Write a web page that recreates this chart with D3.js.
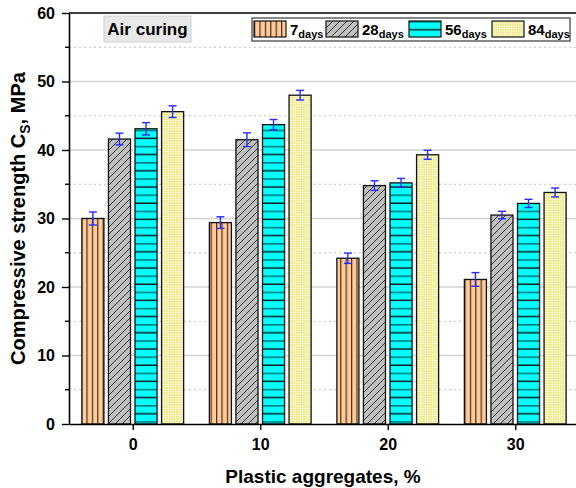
<!DOCTYPE html>
<html>
<head>
<meta charset="utf-8">
<script src="https://cdnjs.cloudflare.com/ajax/libs/d3/7.8.5/d3.min.js"></script>
<style>
body { margin: 0; background: #fff; }
text { font-family: Arial, "Liberation Sans", sans-serif; font-weight: bold; fill: #000; }
</style>
</head>
<body>
<div id="chart"></div>
<script>
// data
var contents = [0, 10, 20, 30];
var series = ["7", "28", "56", "84"];
var strength7 = [30.0, 29.4, 24.2, 21.1];
var strength28 = [41.6, 41.5, 34.8, 30.5];
var strength56 = [43.1, 43.7, 35.2, 32.2];
var strength84 = [45.6, 48.0, 39.3, 33.8];
var err7 = [0.95, 0.85, 0.75, 1.0];
var err28 = [0.85, 1.0, 0.7, 0.55];
var err56 = [0.9, 0.75, 0.65, 0.6];
var err84 = [0.85, 0.7, 0.65, 0.65];
var yTicks = [0, 10, 20, 30, 40, 50, 60];

var values = [strength7, strength28, strength56, strength84];
var errors = [err7, err28, err56, err84];

var data = [];
contents.forEach(function(c, i) {
    series.forEach(function(s, j) {
        data.push({ content: c, series: s, value: values[j][i], err: errors[j][i] });
    });
});

var W = 576, H = 488;
var margin = { top: 13, left: 69, bottom: 64 };
var height = H - margin.top - margin.bottom;

var svg = d3.select("#chart").append("svg")
    .attr("width", W)
    .attr("height", H);

// patterns
var defs = svg.append("defs");

var p7 = defs.append("pattern").attr("id", "p7")
    .attr("patternUnits", "userSpaceOnUse").attr("width", 5.4).attr("height", 10);
p7.append("rect").attr("width", 5.4).attr("height", 10).attr("fill", "#ffcc99");
p7.append("line").attr("x1", 0.6).attr("x2", 0.6).attr("y1", 0).attr("y2", 10)
    .attr("stroke", "#4a2e20").attr("stroke-width", 1.2);

var p28 = defs.append("pattern").attr("id", "p28")
    .attr("patternUnits", "userSpaceOnUse").attr("width", 7).attr("height", 7);
p28.append("rect").attr("width", 7).attr("height", 7).attr("fill", "#c0c0c0");
p28.append("path").attr("d", "M-1,8 L8,-1 M-1,1 L1,-1 M6,8 L8,6")
    .attr("stroke", "#222").attr("stroke-width", 0.9);

var p56 = defs.append("pattern").attr("id", "p56")
    .attr("patternUnits", "userSpaceOnUse").attr("width", 10).attr("height", 16.2);
p56.append("rect").attr("width", 10).attr("height", 16.2).attr("fill", "#00ffff");
p56.append("rect").attr("y", 0).attr("width", 10).attr("height", 1.6).attr("fill", "#007b7b");
p56.append("rect").attr("y", 8.1).attr("width", 10).attr("height", 1.4).attr("fill", "#111");

var p84 = defs.append("pattern").attr("id", "p84")
    .attr("patternUnits", "userSpaceOnUse").attr("width", 2.4).attr("height", 2.4);
p84.append("rect").attr("width", 2.4).attr("height", 2.4).attr("fill", "#ecea90");
p84.append("path").attr("d", "M0,0.4 H2.4 M0.4,0 V2.4")
    .attr("stroke", "#f8f7c8").attr("stroke-width", 0.7);

var fills = { "7": "url(#p7)", "28": "url(#p28)", "56": "url(#p56)", "84": "url(#p84)" };

var g = svg.append("g");

// scales
var x = d3.scaleLinear().domain([-5, 35]).range([margin.left, margin.left + 510]);
var y = d3.scaleLinear().domain([0, 60]).range([margin.top + height, margin.top]);
var inner = d3.scaleBand().domain(series).range([-53, 53]).paddingInner(0.17).paddingOuter(0.08);

// grid lines
g.selectAll(".grid-major").data(d3.range(10, 60, 10)).enter().append("line")
    .attr("x1", margin.left).attr("x2", W)
    .attr("y1", function(d) { return y(d); }).attr("y2", function(d) { return y(d); })
    .attr("stroke", "#d2d2d2").attr("stroke-width", 1.3);
g.selectAll(".grid-minor").data(d3.range(5, 60, 10)).enter().append("line")
    .attr("x1", margin.left).attr("x2", W)
    .attr("y1", function(d) { return y(d); }).attr("y2", function(d) { return y(d); })
    .attr("stroke", "#c4c4c4").attr("stroke-width", 1).attr("stroke-dasharray", "2,3");

// bars
g.selectAll(".bar").data(data).enter().append("rect")
    .attr("x", function(d) { return x(d.content) + inner(d.series); })
    .attr("width", inner.bandwidth())
    .attr("y", function(d) { return y(d.value); })
    .attr("height", function(d) { return y(0) - y(d.value); })
    .attr("fill", function(d) { return fills[d.series]; })
    .attr("stroke", "#111").attr("stroke-width", 1.3);

// error bars
var eb = g.selectAll(".err").data(data).enter().append("g")
    .attr("stroke", "#2a2aff").attr("stroke-width", 1.4).attr("fill", "none");
eb.append("line")
    .attr("x1", function(d) { return x(d.content) + inner(d.series) + inner.bandwidth() / 2; })
    .attr("x2", function(d) { return x(d.content) + inner(d.series) + inner.bandwidth() / 2; })
    .attr("y1", function(d) { return y(d.value + d.err); })
    .attr("y2", function(d) { return y(d.value - d.err); });
eb.each(function(d) {
    var cx = x(d.content) + inner(d.series) + inner.bandwidth() / 2;
    var sel = d3.select(this);
    [d.value + d.err, d.value - d.err].forEach(function(v) {
        sel.append("line").attr("x1", cx - 4).attr("x2", cx + 4)
            .attr("y1", y(v)).attr("y2", y(v));
    });
});

// axes
var yAxis = d3.axisLeft(y).tickValues(yTicks).tickSize(7).tickSizeOuter(0).tickPadding(7);
var yG = svg.append("g").attr("transform", "translate(" + margin.left + ",0)").call(yAxis);
yG.selectAll(".tick line").attr("stroke-width", 1.4);
yG.select(".domain").attr("stroke-width", 1.6);
yG.selectAll("text").style("font-size", "16px");
// minor ticks on y
svg.selectAll(".ymin").data(d3.range(5, 60, 10)).enter().append("line")
    .attr("x1", margin.left - 4).attr("x2", margin.left)
    .attr("y1", function(d) { return y(d); }).attr("y2", function(d) { return y(d); })
    .attr("stroke", "#000").attr("stroke-width", 1.4);

var xAxis = d3.axisBottom(x).tickValues(contents).tickSize(6).tickSizeOuter(0).tickPadding(9);
var xG = svg.append("g").attr("transform", "translate(0," + y(0) + ")").call(xAxis);
xG.selectAll(".tick line").attr("stroke-width", 1.4);
xG.select(".domain").attr("stroke-width", 1.6);
xG.selectAll("text").style("font-size", "16px");

// top border
svg.append("line").attr("x1", margin.left).attr("x2", W)
    .attr("y1", y(60)).attr("y2", y(60)).attr("stroke", "#000").attr("stroke-width", 1.6);

// axis titles
svg.append("text").attr("x", 323).attr("y", 483)
    .attr("text-anchor", "middle").style("font-size", "19px")
    .text("Plastic aggregates, %");

var yt = svg.append("text")
    .attr("transform", "translate(25," + (margin.top + height / 2) + ") rotate(-90)")
    .attr("text-anchor", "middle").style("font-size", "20px");
yt.append("tspan").text("Compressive strength C");
yt.append("tspan").attr("dy", 5).style("font-size", "14px").text("S");
yt.append("tspan").attr("dy", -5).text(", MPa");

// "Air curing" label
svg.append("rect").attr("x", 104).attr("y", 16).attr("width", 87).attr("height", 26)
    .attr("fill", "#e8e8e8").attr("stroke", "#d0d0d0");
svg.append("text").attr("x", 147.5).attr("y", 35).attr("text-anchor", "middle")
    .style("font-size", "17px").text("Air curing");

// legend
svg.append("rect").attr("x", 252).attr("y", 18).attr("width", 318).attr("height", 23)
    .attr("fill", "#fff").attr("stroke", "#555").attr("stroke-width", 1.4);
var legX = [254, 326, 409, 492];
var leg = svg.selectAll(".leg").data(series).enter().append("g")
    .attr("transform", function(d, i) { return "translate(" + legX[i] + ",21)"; });
leg.append("rect").attr("width", 32).attr("height", 16)
    .attr("fill", function(d) { return fills[d]; })
    .attr("stroke", "#111").attr("stroke-width", 1.2);
var lt = leg.append("text").attr("x", 36).attr("y", 13.5).style("font-size", "15px");
lt.append("tspan").text(function(d) { return d; });
lt.append("tspan").attr("dy", 3).style("font-size", "11px").text("days");
</script>
</body>
</html>
